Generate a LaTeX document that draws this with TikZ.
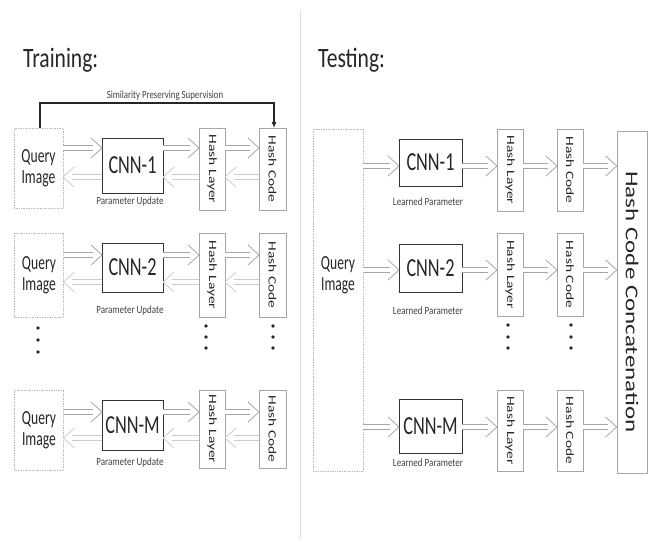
\documentclass[tikz,border=0pt]{standalone}
\usepackage{fontspec}
\setmainfont{Carlito}
\usepackage{graphicx}
\usetikzlibrary{arrows.meta}
\newcommand\hsc[2]{\scalebox{#1}[1]{#2}}
\newcommand\vtxt[1]{\rotatebox{-90}{\scalebox{1}[0.72]{#1}}}
\newcommand\qitxt{\hsc{0.68}{Query}\\\hsc{0.68}{Image}}
\pgfdeclarearrow{
  name = Chev,
  parameters = {\the\pgfarrowlength,\the\pgfarrowwidth},
  setup code = {
    \pgfarrowssettipend{0pt}
    \pgfarrowssetbackend{-\pgfarrowlength}
    \pgfarrowssetlineend{-0.78\pgfarrowlength}
    \pgfarrowssavethe\pgfarrowlength
    \pgfarrowssavethe\pgfarrowwidth
  },
  drawing code = {
    \pgfsetlinewidth{0.8pt}
    \pgfsetdash{}{0pt}
    \pgfpathmoveto{\pgfqpoint{-\pgfarrowlength}{0.5\pgfarrowwidth}}
    \pgfpathlineto{\pgfpointorigin}
    \pgfpathlineto{\pgfqpoint{-\pgfarrowlength}{-0.5\pgfarrowwidth}}
    \pgfusepathqstroke
  },
  defaults = {length = 11pt, width = 20pt}
}
\begin{document}
\begin{tikzpicture}[x=1pt,y=-1pt,
  qbox/.style={draw=gray!55, densely dotted, line width=0.7pt, inner sep=0pt, outer sep=0pt, minimum width=49pt, align=center, text=black!85, font=\fontsize{20}{21}\selectfont},
  cnn/.style={draw=black!80, line width=0.9pt, inner sep=0pt, outer sep=0pt, minimum width=61pt, text=black!85, font=\fontsize{26}{28}\selectfont},
  hbox/.style={draw=gray!70, line width=0.6pt, inner sep=0pt, outer sep=0pt, minimum width=26pt, text=black!85, font=\fontsize{15.5}{18}\selectfont},
  small/.style={text=black!75, inner sep=0pt, font=\fontsize{11}{12}\selectfont},
  title/.style={text=black!85, inner sep=0pt, anchor=base west, font=\fontsize{28}{30}\selectfont},
  farrow/.style={draw=gray!70, double=white, double distance=3.6pt, line width=0.8pt, -{Chev[length=11pt,width=20pt]}},
  barrow/.style={draw=gray!40, double=white, double distance=3.6pt, line width=0.8pt, -{Chev[length=11pt,width=20pt]}},
  dotm/.style={circle, fill=black!85, inner sep=0pt, minimum size=3.6pt},
  sup/.style={draw=black!85, line width=1.1pt, -{Latex[length=6pt,width=5pt]}}
]
\useasboundingbox (0,0) rectangle (648,539);
% divider
\coordinate (dtop) at (300,10);
\coordinate (dbot) at (300,539);
\draw[gray!25, line width=0.8pt] (dtop) -- (dbot);

% titles
\node[title] (ttrain) at (23,67) {\hsc{0.77}{Training:}};
\node[title] (ttest) at (318,67) {\hsc{0.77}{Testing:}};

% ---------------- Training ----------------
% row 1
\node[qbox, minimum height=80pt] (q1) at (38.5,168) {\qitxt};
\node[cnn, minimum height=55pt] (c1) at (132.5,165.5) {\hsc{0.70}{CNN-1}};
\node[hbox, minimum height=82pt] (hl1) at (212,169) {\vtxt{Hash Layer}};
\node[hbox, minimum height=82pt, minimum width=27pt] (hc1) at (272.5,169) {\vtxt{Hash Code}};
\node[small] (pu1) at (130,202) {\hsc{0.82}{Parameter Update}};
\coordinate (r1f) at (0,148);
\coordinate (r1b) at (0,177);
\draw[farrow] (q1.east |- r1f) -- (c1.west |- r1f);
\draw[farrow] (c1.east |- r1f) -- (hl1.west |- r1f);
\draw[farrow] (hl1.east |- r1f) -- (hc1.west |- r1f);
\draw[barrow] (c1.west |- r1b) -- (q1.east |- r1b);
\draw[barrow] (hl1.west |- r1b) -- (c1.east |- r1b);
\draw[barrow] (hc1.west |- r1b) -- (hl1.east |- r1b);
% supervision
\coordinate (sy) at (0,103);
\coordinate (sxl) at (40,0);
\coordinate (sxr) at (274,0);
\draw[sup] (q1.north -| sxl) -- (sxl |- sy) -- (sxr |- sy) -- (hc1.north -| sxr);
\node[small] (suplab) at (165,96) {\hsc{0.8}{Similarity Preserving Supervision}};

% row 2
\node[qbox, minimum height=84pt] (q2) at (39,275) {\qitxt};
\node[cnn, minimum height=49pt] (c2) at (132.5,267.5) {\hsc{0.70}{CNN-2}};
\node[hbox, minimum height=84pt] (hl2) at (212,275) {\vtxt{Hash Layer}};
\node[hbox, minimum height=84pt, minimum width=27pt] (hc2) at (272.5,275) {\vtxt{Hash Code}};
\node[small] (pu2) at (130,311) {\hsc{0.82}{Parameter Update}};
\coordinate (r2f) at (0,255);
\coordinate (r2b) at (0,282);
\draw[farrow] (q2.east |- r2f) -- (c2.west |- r2f);
\draw[farrow] (c2.east |- r2f) -- (hl2.west |- r2f);
\draw[farrow] (hl2.east |- r2f) -- (hc2.west |- r2f);
\draw[barrow] (c2.west |- r2b) -- (q2.east |- r2b);
\draw[barrow] (hl2.west |- r2b) -- (c2.east |- r2b);
\draw[barrow] (hc2.west |- r2b) -- (hl2.east |- r2b);
% dots
\node[dotm] (dq1) at (38,328) {};
\node[dotm] (dq2) at (38,340) {};
\node[dotm] (dq3) at (38,352) {};
\node[dotm] (dl1) at (206,326) {};
\node[dotm] (dl2) at (206,337) {};
\node[dotm] (dl3) at (206,348) {};
\node[dotm] (dc1) at (273,326) {};
\node[dotm] (dc2) at (273,337) {};
\node[dotm] (dc3) at (273,348) {};

% row M
\node[qbox, minimum height=80pt] (qM) at (39,430) {\qitxt};
\node[cnn, minimum height=50pt] (cM) at (132.5,425) {\hsc{0.70}{CNN-M}};
\node[hbox, minimum height=78pt] (hlM) at (212,429) {\vtxt{Hash Layer}};
\node[hbox, minimum height=78pt, minimum width=27pt] (hcM) at (272.5,429) {\vtxt{Hash Code}};
\node[small] (puM) at (130,463) {\hsc{0.82}{Parameter Update}};
\coordinate (rMf) at (0,412);
\coordinate (rMb) at (0,438);
\draw[farrow] (qM.east |- rMf) -- (cM.west |- rMf);
\draw[farrow] (cM.east |- rMf) -- (hlM.west |- rMf);
\draw[farrow] (hlM.east |- rMf) -- (hcM.west |- rMf);
\draw[barrow] (cM.west |- rMb) -- (qM.east |- rMb);
\draw[barrow] (hlM.west |- rMb) -- (cM.east |- rMb);
\draw[barrow] (hcM.west |- rMb) -- (hlM.east |- rMb);

% ---------------- Testing ----------------
\node[qbox, minimum height=342pt, minimum width=50pt] (qT) at (338,300) {};
\node[text=black!85, align=center, inner sep=0pt, font=\fontsize{20}{21}\selectfont] (qTt) at (338,275) {\qitxt};
\node[draw=gray!70, line width=0.6pt, inner sep=0pt, minimum width=30pt, minimum height=342pt, text=black!85, font=\fontsize{25}{28}\selectfont] (cat) at (632,302) {\vtxt{Hash Code Concatenation}};

% row 1
\node[cnn, minimum height=47pt, minimum width=63pt] (tc1) at (430.5,162.5) {\hsc{0.70}{CNN-1}};
\node[hbox, minimum height=82pt] (thl1) at (510,170) {\vtxt{Hash Layer}};
\node[hbox, minimum height=82pt] (thc1) at (570,170) {\vtxt{Hash Code}};
\node[small] (lp1) at (428,202) {\hsc{0.82}{Learned Parameter}};
\coordinate (t1) at (0,166);
\draw[farrow] (qT.east |- t1) -- (tc1.west |- t1);
\draw[farrow] (tc1.east |- t1) -- (thl1.west |- t1);
\draw[farrow] (thl1.east |- t1) -- (thc1.west |- t1);
\draw[farrow] (thc1.east |- t1) -- (cat.west |- t1);

% row 2
\node[cnn, minimum height=48pt, minimum width=63pt] (tc2) at (430.5,268) {\hsc{0.70}{CNN-2}};
\node[hbox, minimum height=83pt] (thl2) at (510,274.5) {\vtxt{Hash Layer}};
\node[hbox, minimum height=83pt] (thc2) at (570,274.5) {\vtxt{Hash Code}};
\node[small] (lp2) at (428,311) {\hsc{0.82}{Learned Parameter}};
\coordinate (t2) at (0,270);
\draw[farrow] (qT.east |- t2) -- (tc2.west |- t2);
\draw[farrow] (tc2.east |- t2) -- (thl2.west |- t2);
\draw[farrow] (thl2.east |- t2) -- (thc2.west |- t2);
\draw[farrow] (thc2.east |- t2) -- (cat.west |- t2);
\node[dotm] (tdl1) at (508,325) {};
\node[dotm] (tdl2) at (508,337) {};
\node[dotm] (tdl3) at (508,348) {};
\node[dotm] (tdc1) at (571,325) {};
\node[dotm] (tdc2) at (571,337) {};
\node[dotm] (tdc3) at (571,348) {};

% row M
\node[cnn, minimum height=54pt, minimum width=63pt] (tcM) at (430.5,426) {\hsc{0.70}{CNN-M}};
\node[hbox, minimum height=81pt] (thlM) at (510,430.5) {\vtxt{Hash Layer}};
\node[hbox, minimum height=81pt] (thcM) at (570,430.5) {\vtxt{Hash Code}};
\node[small] (lpM) at (428,463) {\hsc{0.82}{Learned Parameter}};
\coordinate (tM) at (0,427);
\draw[farrow] (qT.east |- tM) -- (tcM.west |- tM);
\draw[farrow] (tcM.east |- tM) -- (thlM.west |- tM);
\draw[farrow] (thlM.east |- tM) -- (thcM.west |- tM);
\draw[farrow] (thcM.east |- tM) -- (cat.west |- tM);
\end{tikzpicture}
\end{document}
